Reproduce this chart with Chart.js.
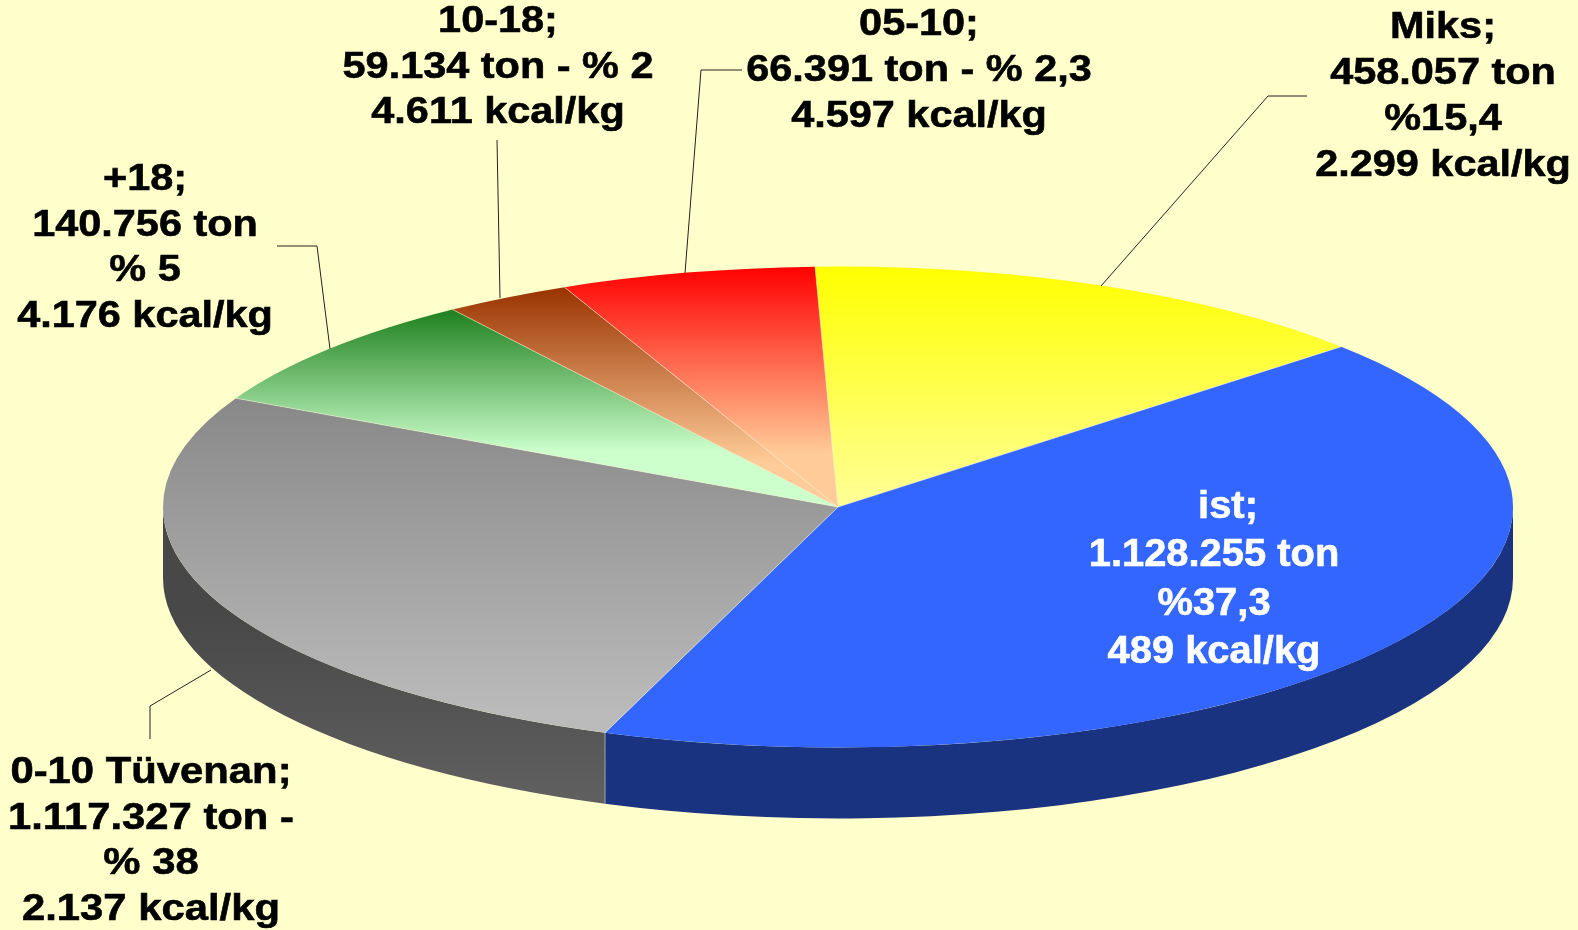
<!DOCTYPE html>
<html>
<head>
<meta charset="utf-8">
<title>Kömür üretimi</title>
<script src="https://cdn.jsdelivr.net/npm/chart.js@4/dist/chart.umd.js"></script>
<style>
  html, body { margin: 0; padding: 0; background: #FFFFCC; overflow: hidden; }
  canvas { display: block; }
</style>
</head>
<body>
<canvas id="pie" width="1578" height="930"></canvas>
<script>
// slice order runs clockwise from the top of the pie
var categories = ['Miks', 'ist', '0-10 Tüvenan', '+18', '10-18', '05-10'];
// drawn share of each slice (differs from the printed %)
var sliceShares = [13.93, 42.22, 26.86, 7.86, 3.03, 6.10];
var tonnes = ['458.057 ton', '1.128.255 ton', '1.117.327 ton -', '140.756 ton', '59.134 ton - % 2', '66.391 ton - % 2,3'];
var percents = ['%15,4', '%37,3', '% 38', '% 5', '', ''];
var calories = ['2.299 kcal/kg', '489 kcal/kg', '2.137 kcal/kg', '4.176 kcal/kg', '4.611 kcal/kg', '4.597 kcal/kg'];

var topColors = ['#FFFF00', '#3366FF', '#888888', '#1E801E', '#993300', '#FF0000'];
var bottomColors = ['#FFFF99', '#3366FF', '#BBBBBB', '#CCFFCC', '#FFCC99', '#FFCC99'];
// where each gradient reaches its pale end, as a fraction of the slice height
var gradientEnds = [1, 1, 0.95, 0.72, 0.8, 0.78];
var wallColors = [['#1A3380', '#1A3380'], ['#1A3380', '#1A3380'], ['#484848', '#626262']];

var RADIUS = 675;
var SQUASH = 240.5 / 675;
var DEPTH = 71;
var START_ANGLE = -1.95;

// label placement: centre x, first baseline, line pitch, font size, x stretch, colour
var labelLayout = [
  { x: 1443, y: 38, pitch: 46, size: 37, stretch: 1.12, color: '#000' },
  { x: 1214, y: 518, pitch: 48.3, size: 38, stretch: 1.05, color: '#fff', firstShift: 14 },
  { x: 151, y: 783, pitch: 45.5, size: 37, stretch: 1.13, color: '#000' },
  { x: 145, y: 190, pitch: 45.7, size: 37, stretch: 1.12, color: '#000' },
  { x: 498, y: 32, pitch: 45.5, size: 37, stretch: 1.12, color: '#000' },
  { x: 919, y: 35, pitch: 46, size: 37, stretch: 1.12, color: '#000' }
];

// leader lines from label to rim
var leaders = [
  [[1307, 96], [1268, 96], [1101, 286]],
  [[150, 739], [150, 706], [211, 670]],
  [[277, 246], [317, 246], [330, 349]],
  [[497, 140], [500, 298]],
  [[742, 70], [701, 70], [685, 273]]
];

function pieCentre(chart) {
  var area = chart.chartArea;
  return { x: (area.left + area.right) / 2, y: (area.top + area.bottom) / 2 };
}

// vertical extent of a slice on the unit circle, so each gradient fits its slice
function sliceExtent(index) {
  var total = sliceShares.reduce(function(a, b) { return a + b; }, 0);
  var before = sliceShares.slice(0, index).reduce(function(a, b) { return a + b; }, 0);
  var a1 = (START_ANGLE - 90 + before / total * 360) * Math.PI / 180;
  var a2 = a1 + sliceShares[index] / total * 2 * Math.PI;
  var ys = [0, Math.sin(a1), Math.sin(a2)];
  [-Math.PI / 2, Math.PI / 2, 3 * Math.PI / 2].forEach(function(a) {
    if (a > a1 && a < a2) ys.push(Math.sin(a));
  });
  return { min: Math.min.apply(null, ys), max: Math.max.apply(null, ys) };
}

function sliceFill(context) {
  var chart = context.chart;
  var i = context.dataIndex;
  if (!chart.chartArea || i === undefined) return topColors[i || 0];
  var c = pieCentre(chart);
  var ext = sliceExtent(i);
  var grad = chart.ctx.createLinearGradient(0, c.y + ext.min * RADIUS, 0, c.y + ext.max * RADIUS);
  grad.addColorStop(0, topColors[i]);
  grad.addColorStop(gradientEnds[i], bottomColors[i]);
  return grad;
}

var tiltPlugin = {
  id: 'tilt',
  beforeDatasetsDraw: function(chart) {
    var ctx = chart.ctx;
    var c = pieCentre(chart);
    var ry = RADIUS * SQUASH;
    chart.getDatasetMeta(0).data.forEach(function(arc, i) {
      var a = Math.max(arc.startAngle, 0);
      var b = Math.min(arc.endAngle, Math.PI);
      if (a >= b) return;
      var grad = ctx.createLinearGradient(0, c.y, 0, c.y + ry + DEPTH);
      var colors = wallColors[Math.min(i, wallColors.length - 1)];
      grad.addColorStop(0.35, colors[0]);
      grad.addColorStop(1, colors[1]);
      ctx.beginPath();
      ctx.ellipse(c.x, c.y, RADIUS, ry, 0, a, b);
      ctx.ellipse(c.x, c.y + DEPTH, RADIUS, ry, 0, b, a, true);
      ctx.closePath();
      ctx.fillStyle = grad;
      ctx.fill();
    });
    // the arcs are plain circles, flatten them into the tilted top face
    ctx.save();
    ctx.translate(0, c.y);
    ctx.scale(1, SQUASH);
    ctx.translate(0, -c.y);
  },
  afterDatasetsDraw: function(chart) {
    var ctx = chart.ctx;
    ctx.restore();
    var c = pieCentre(chart);
    var ry = RADIUS * SQUASH;

    // thin pale seams between slices
    ctx.strokeStyle = 'rgba(240,240,210,0.55)';
    ctx.lineWidth = 1;
    chart.getDatasetMeta(0).data.forEach(function(arc) {
      var x = c.x + RADIUS * Math.cos(arc.startAngle);
      var y = c.y + ry * Math.sin(arc.startAngle);
      ctx.beginPath();
      ctx.moveTo(c.x, c.y);
      ctx.lineTo(x, y);
      ctx.stroke();
      if (arc.startAngle > 0 && arc.startAngle < Math.PI) {
        ctx.beginPath();
        ctx.moveTo(x, y);
        ctx.lineTo(x, y + DEPTH);
        ctx.stroke();
      }
    });

    ctx.strokeStyle = '#222';
    leaders.forEach(function(points) {
      ctx.beginPath();
      points.forEach(function(p, i) {
        if (i === 0) ctx.moveTo(p[0], p[1]);
        else ctx.lineTo(p[0], p[1]);
      });
      ctx.stroke();
    });

    categories.forEach(function(name, i) {
      var spec = labelLayout[i];
      var lines = [name + ';', tonnes[i], percents[i], calories[i]].filter(function(t) { return t !== ''; });
      ctx.font = 'bold ' + spec.size + 'px "Liberation Sans", Arial, sans-serif';
      ctx.fillStyle = spec.color;
      ctx.strokeStyle = spec.color;
      ctx.lineWidth = 0.6;
      ctx.textAlign = 'center';
      ctx.textBaseline = 'alphabetic';
      lines.forEach(function(text, n) {
        var shift = n === 0 && spec.firstShift ? spec.firstShift : 0;
        ctx.save();
        ctx.translate(spec.x + shift, spec.y + n * spec.pitch);
        ctx.scale(spec.stretch, 1);
        ctx.fillText(text, 0, 0);
        ctx.strokeText(text, 0, 0);
        ctx.restore();
      });
    });
  }
};

var chart = new Chart(document.getElementById('pie').getContext('2d'), {
  type: 'pie',
  data: {
    labels: categories,
    datasets: [{
      data: sliceShares,
      backgroundColor: sliceFill,
      borderWidth: 0,
      clip: false
    }]
  },
  options: {
    responsive: false,
    animation: false,
    radius: RADIUS,
    rotation: START_ANGLE,
    // shifts the centre of the chart area onto the pie's centre
    layout: { padding: { left: 98, top: 84, right: 0, bottom: 0 } },
    plugins: { legend: { display: false }, tooltip: { enabled: false } }
  },
  plugins: [tiltPlugin]
});
</script>
</body>
</html>
